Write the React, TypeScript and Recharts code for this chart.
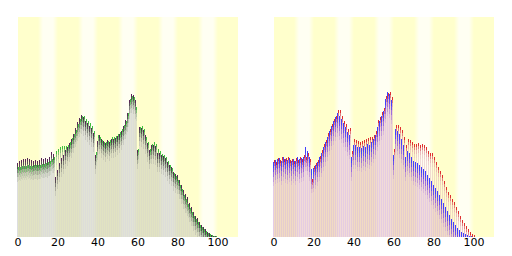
import { BarChart, Bar, XAxis, YAxis, ReferenceArea } from 'recharts';

// age 0..100, one bar pair per year of age
const ages = Array.from({ length: 101 }, (_, i) => i);

// left panel: municipality vs. whole country (share of population, %)
const cityShare = [
  0.74, 0.76, 0.77, 0.78, 0.78, 0.79, 0.78, 0.77, 0.76, 0.77,
  0.76, 0.77, 0.79, 0.78, 0.79, 0.78, 0.8, 0.85, 0.83, 0.6,
  0.67, 0.74, 0.79, 0.82, 0.87, 0.9, 0.94, 0.98, 1.03, 1.09,
  1.15, 1.19, 1.22, 1.2, 1.16, 1.14, 1.11, 1.09, 1.04, 0.82,
  0.96, 1.02, 0.98, 0.96, 0.94, 0.97, 0.95, 0.98, 0.98, 0.99,
  1.01, 1.03, 1.06, 1.11, 1.17, 1.24, 1.37, 1.43, 1.42, 1.37,
  0.87, 1.1, 1.09, 1.07, 1.02, 0.94, 0.87, 0.92, 0.92, 0.91,
  0.84, 0.84, 0.82, 0.81, 0.79, 0.75, 0.72, 0.7, 0.65, 0.63,
  0.62, 0.57, 0.52, 0.47, 0.43, 0.4, 0.34, 0.3, 0.25, 0.21,
  0.19, 0.15, 0.12, 0.1, 0.08, 0.05, 0.04, 0.02, 0.01, 0.01,
  0.005,
];
const countryShare = [
  0.7, 0.7, 0.71, 0.71, 0.71, 0.72, 0.71, 0.71, 0.72, 0.72,
  0.72, 0.72, 0.73, 0.73, 0.74, 0.75, 0.76, 0.78, 0.8, 0.86,
  0.88, 0.9, 0.91, 0.91, 0.91, 0.92, 0.95, 0.99, 1.03, 1.07,
  1.13, 1.18, 1.21, 1.21, 1.18, 1.16, 1.14, 1.11, 1.06, 0.85,
  1.02, 1.0, 0.97, 0.95, 0.95, 0.96, 0.97, 1.0, 1.0, 1.01,
  1.03, 1.05, 1.08, 1.12, 1.16, 1.24, 1.38, 1.41, 1.4, 1.3,
  0.88, 1.1, 1.11, 1.08, 1.0, 0.95, 0.88, 0.93, 0.95, 0.93,
  0.88, 0.86, 0.83, 0.82, 0.8, 0.76, 0.72, 0.69, 0.64, 0.61,
  0.57, 0.52, 0.48, 0.42, 0.38, 0.33, 0.29, 0.25, 0.21, 0.18,
  0.15, 0.12, 0.1, 0.08, 0.06, 0.04, 0.03, 0.02, 0.015, 0.01,
  0.005,
];

// right panel: male vs. female
const maleShare = [
  0.75, 0.77, 0.78, 0.79, 0.76, 0.8, 0.78, 0.77, 0.79, 0.76,
  0.78, 0.76, 0.8, 0.78, 0.79, 0.8, 0.9, 0.86, 0.8, 0.68,
  0.69, 0.72, 0.75, 0.8, 0.84, 0.9, 0.95, 1.0, 1.06, 1.11,
  1.16, 1.2, 1.24, 1.21, 1.18, 1.14, 1.1, 1.05, 1.02, 0.8,
  0.92, 0.92, 0.9, 0.9, 0.89, 0.91, 0.9, 0.93, 0.92, 0.95,
  0.98, 1.02, 1.1, 1.16, 1.21, 1.26, 1.38, 1.45, 1.43, 1.37,
  0.82, 1.08, 1.06, 1.03, 0.98, 0.92, 0.8, 0.86, 0.84, 0.8,
  0.76, 0.75, 0.74, 0.72, 0.7, 0.68, 0.66, 0.62, 0.59, 0.56,
  0.52, 0.49, 0.46, 0.42, 0.38, 0.34, 0.3, 0.26, 0.22, 0.18,
  0.15, 0.12, 0.09, 0.07, 0.05, 0.04, 0.03, 0.02, 0.01, 0.007,
  0.004,
];
const femaleShare = [
  0.77, 0.75, 0.79, 0.77, 0.8, 0.78, 0.79, 0.8, 0.77, 0.78,
  0.76, 0.79, 0.77, 0.8, 0.78, 0.82, 0.8, 0.84, 0.78, 0.58,
  0.71, 0.74, 0.77, 0.81, 0.87, 0.93, 0.97, 1.04, 1.08, 1.13,
  1.18, 1.21, 1.27, 1.27, 1.21, 1.16, 1.13, 1.08, 1.09, 0.86,
  0.98, 0.97, 0.96, 0.95, 0.96, 0.97, 0.98, 0.99, 1.0, 1.0,
  1.02, 1.06, 1.17, 1.2, 1.25, 1.29, 1.41, 1.44, 1.45, 1.4,
  0.88, 1.12, 1.12, 1.1, 1.07, 1.0, 0.92, 0.98, 0.97, 0.95,
  0.93, 0.93, 0.94, 0.92, 0.93, 0.92, 0.9, 0.86, 0.84, 0.84,
  0.8, 0.75, 0.7, 0.66, 0.62, 0.56, 0.5, 0.45, 0.42, 0.38,
  0.35, 0.3, 0.26, 0.21, 0.17, 0.14, 0.11, 0.08, 0.05, 0.03,
  0.02,
];

const xTicks = [0, 20, 40, 60, 80, 100];
// pale stripes between the yellow decades
const paleDecades = [10, 30, 50, 70, 90];

const leftData = ages.map((age, i) => ({ age, city: cityShare[i], country: countryShare[i] }));
const rightData = ages.map((age, i) => ({ age, male: maleShare[i], female: femaleShare[i] }));

// 1px column: translucent body, then a stack of solid steps for the coloured tip
function TipBar(props: any) {
  const { x, y, height, s } = props;
  if (!height || height <= 0) return null;
  const px = Math.round(x);
  let top = y;
  const steps = [];
  for (const [h, c, o] of s.steps) {
    const hh = Math.min(h, y + height - top);
    if (hh <= 0) break;
    steps.push(<rect key={top} x={px} y={top} width={1} height={hh} fill={c} fillOpacity={o} />);
    top += hh;
  }
  return (
    <g shapeRendering="crispEdges">
      <rect x={px} y={y} width={1} height={height} fill={s.body} fillOpacity={s.bodyOpacity} />
      {steps}
    </g>
  );
}

function Panel({ data, a, b }: { data: any[]; a: any; b: any }) {
  return (
    <BarChart
      width={256}
      height={256}
      data={data}
      margin={{ top: 17, right: 18, bottom: 0, left: 18 }}
      barGap={0}
    >
      <defs>
        <linearGradient id="pale" x1="0" y1="0" x2="1" y2="0">
          <stop offset="0" stopColor="#ffffcc" />
          <stop offset="0.25" stopColor="#fffff2" />
          <stop offset="0.75" stopColor="#fffff2" />
          <stop offset="1" stopColor="#ffffcc" />
        </linearGradient>
      </defs>
      <XAxis
        dataKey="age"
        type="number"
        domain={[0, 110]}
        ticks={xTicks}
        axisLine={false}
        tickLine={false}
        tickSize={0}
        tickMargin={1}
        height={19}
        interval={0}
        tick={{ fill: '#000', fontSize: 11, fontFamily: 'DejaVu Sans' }}
      />
      <YAxis hide domain={[0, 2.2]} />
      <ReferenceArea x1={0} x2={110} fill="#ffffcc" fillOpacity={1} ifOverflow="hidden" />
      {paleDecades.map((d) => (
        <ReferenceArea key={d} x1={d} x2={d + 10} fill="url(#pale)" fillOpacity={1} ifOverflow="hidden" />
      ))}
      <Bar dataKey={a.key} barSize={0.9} isAnimationActive={false} shape={(p: any) => <TipBar {...p} s={a} />} />
      <Bar dataKey={b.key} barSize={0.9} isAnimationActive={false} shape={(p: any) => <TipBar {...p} s={b} />} />
    </BarChart>
  );
}

// steps: [height px, colour, opacity] from the top of the bar downwards
const citySeries = {
  key: 'city', body: '#bcbcc0', bodyOpacity: 0.5,
  steps: [[3, '#582858', 1], [3, '#504450', 0.95], [4, '#686864', 0.8], [4, '#808078', 0.55], [5, '#a0a098', 0.3]],
};
const countrySeries = {
  key: 'country', body: '#c4c8b8', bodyOpacity: 0.5,
  steps: [[3, '#40c040', 1], [3, '#68b860', 0.8], [4, '#90b488', 0.5], [4, '#a8bca0', 0.25]],
};
const maleSeries = {
  key: 'male', body: '#cc99d0', bodyOpacity: 0.5,
  steps: [[6, '#4040ff', 1], [4, '#6048f0', 0.95], [5, '#8858e0', 0.8], [5, '#a070d8', 0.55], [4, '#b890d8', 0.3]],
};
const femaleSeries = {
  key: 'female', body: '#e0b0b8', bodyOpacity: 0.45,
  steps: [[3, '#e03030', 1], [3, '#dc5860', 0.7], [4, '#e08898', 0.4], [4, '#e4a8b8', 0.2]],
};

export default function App() {
  return (
    <div style={{ position: 'absolute', left: 0, top: 0, width: 512, height: 256, display: 'flex', background: '#fff' }}>
      <Panel data={leftData} a={citySeries} b={countrySeries} />
      <Panel data={rightData} a={maleSeries} b={femaleSeries} />
    </div>
  );
}
